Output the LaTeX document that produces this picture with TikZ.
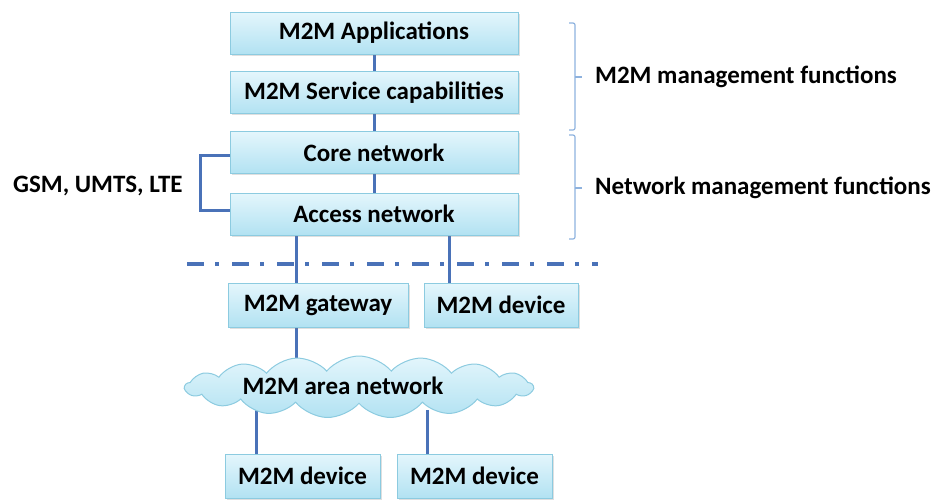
\documentclass[tikz,border=0pt]{standalone}
\usepackage{fontspec}
\setmainfont{Carlito}
\usetikzlibrary{shapes.symbols,shadows,backgrounds}
\definecolor{linkblue}{HTML}{4A72B8}
\definecolor{boxedge}{HTML}{8CCBE0}
\definecolor{boxtop}{HTML}{E4F6FC}
\definecolor{boxbot}{HTML}{B2E2F2}
\definecolor{bracecol}{HTML}{8EB2DE}
\tikzset{
  textfont/.style={font=\bfseries\fontsize{25}{28}\selectfont},
  layer/.style={textfont, draw=boxedge, line width=1pt, top color=boxtop, bottom color=boxbot,
    minimum height=42pt, inner sep=0pt,
    drop shadow={shadow xshift=1.5pt, shadow yshift=-1.5pt, opacity=0.25}},
  link/.style={draw=linkblue, line width=3pt},
  brace/.style={draw=bracecol, line width=1.2pt, rounded corners=2pt},
  label/.style={textfont, anchor=west, inner sep=0pt}
}
\begin{document}
\begin{tikzpicture}[x=1pt, y=-1pt]
\useasboundingbox (0,0) rectangle (936,499);
% protocol stack
\node[layer, minimum width=288pt] (app)  at (374,33)    {M2M Applications};
\node[layer, minimum width=288pt] (svc)  at (374,92.5)  {M2M Service capabilities};
\node[layer, minimum width=288pt] (core) at (374,152.5) {Core network};
\node[layer, minimum width=288pt] (acc)  at (374,214)   {Access network};
% edge domain
\node[layer, minimum width=180pt, minimum height=44pt] (gw)   at (318,305)   {M2M gateway};
\node[layer, minimum width=154pt, minimum height=44pt] (dev1) at (501,305)   {M2M device};
\node[cloud, cloud puffs=17, cloud puff arc=100, cloud ignores aspect,
      minimum width=348pt, minimum height=62pt, inner sep=0pt,
      draw=boxedge, line width=1pt, top color=boxtop, bottom color=boxbot]
      (area) at (359,387) {};
\node[textfont] (arealbl) at (343,386) {M2M area network};
\node[layer, minimum width=155pt, minimum height=44pt] (dev2) at (302.5,476) {M2M device};
\node[layer, minimum width=155pt, minimum height=44pt] (dev3) at (474.5,476) {M2M device};

% links between the layers and devices
\coordinate (gtop) at (296,235);
\coordinate (dtop) at (449,235);
\coordinate (c2) at (256,410);
\coordinate (c3) at (427,410);
\begin{scope}[on background layer]
\draw[link] (app.south) -- (svc.north);
\draw[link] (svc.south) -- (core.north);
\draw[link] (core.south) -- (acc.north);
\draw[link] (gtop) -- (gtop |- gw.north);
\draw[link] (dtop) -- (dtop |- dev1.north);
\draw[link] (gtop |- gw.south) -- (296,364);
\draw[link] (c2) -- (c2 |- dev2.north);
\draw[link] (c3) -- (c3 |- dev3.north);
\end{scope}

% operator boundary
\coordinate (b0) at (187,264);
\coordinate (b1) at (598,264);
\draw[draw=linkblue, line width=3.5pt, dash pattern=on 17pt off 11pt on 4pt off 13pt] (b0) -- (b1);

% access technologies
\node[label] (gsm) at (13,186) {GSM, UMTS, LTE};
\draw[link] (core.west |- 0,155) -- (200,155) -- (200,210) -- (acc.west |- 0,210);

% management braces
\coordinate (m0) at (569,23);
\coordinate (m1) at (569,130);
\coordinate (n0) at (569,135);
\coordinate (n1) at (569,239);
\draw[brace] (m0) -- (575,23) -- (575,130) -- (m1);
\draw[brace] (n0) -- (575,135) -- (575,239) -- (n1);
\draw[brace] (575,77) -- (582,77);
\draw[brace] (575,188) -- (582,188);
\node[label] (mmf) at (595,77) {M2M management functions};
\node[label] (nmf) at (595,188) {Network management functions};
\end{tikzpicture}
\end{document}
